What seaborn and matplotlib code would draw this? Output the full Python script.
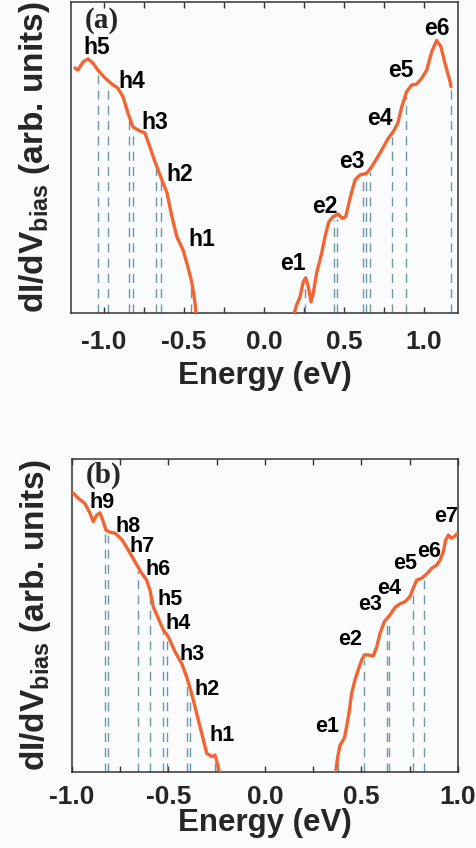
import numpy as np
import matplotlib
matplotlib.use("Agg")
import matplotlib.pyplot as plt
import seaborn as sns
import pandas as pd

# ---------------- data: panel (a) ----------------
a_hole_E = [-1.181, -1.163, -1.131, -1.100, -1.069, -1.038, -0.994, -0.950, -0.913, -0.881,
            -0.850, -0.819, -0.775, -0.744, -0.713, -0.681, -0.638, -0.606, -0.575, -0.544,
            -0.506, -0.475, -0.450, -0.431, -0.425]
a_hole_I = [0.788, 0.781, 0.807, 0.817, 0.804, 0.781, 0.756, 0.736, 0.723, 0.695,
            0.643, 0.598, 0.585, 0.579, 0.534, 0.486, 0.428, 0.386, 0.309, 0.244,
            0.203, 0.148, 0.096, 0.032, 0.0]
a_elec_E = [0.189, 0.204, 0.225, 0.246, 0.261, 0.277, 0.294, 0.308, 0.329, 0.361,
            0.381, 0.406, 0.433, 0.464, 0.489, 0.511, 0.538, 0.569, 0.600, 0.642,
            0.673, 0.725, 0.777, 0.808, 0.836, 0.861, 0.892, 0.923, 0.954, 0.986,
            1.017, 1.048, 1.079, 1.106, 1.131, 1.163, 1.169]
a_elec_I = [0.0, 0.026, 0.051, 0.101, 0.113, 0.085, 0.036, 0.064, 0.129, 0.193,
            0.245, 0.294, 0.310, 0.318, 0.304, 0.310, 0.369, 0.428, 0.444, 0.449,
            0.470, 0.514, 0.562, 0.583, 0.610, 0.663, 0.712, 0.733, 0.736, 0.755,
            0.781, 0.840, 0.876, 0.856, 0.803, 0.744, 0.728]
a_dash_E = [-1.036, -0.973, -0.842, -0.821, -0.675, -0.646, -0.458,
            0.256, 0.440, 0.454, 0.620, 0.640, 0.665, 0.800, 0.888, 1.167]
a_labels = ["h5", "h4", "h3", "h2", "h1", "e1", "e2", "e3", "e4", "e5", "e6"]
a_label_E = [-1.044, -0.827, -0.681, -0.525, -0.389, 0.183, 0.381, 0.548, 0.725, 0.854, 1.079]
a_label_I = [0.855, 0.743, 0.611, 0.444, 0.235, 0.160, 0.342, 0.487, 0.626, 0.781, 0.915]

# ---------------- data: panel (b) ----------------
b_hole_E = [-0.993, -0.967, -0.933, -0.907, -0.890, -0.872, -0.855, -0.841, -0.824, -0.803,
            -0.777, -0.742, -0.708, -0.674, -0.639, -0.613, -0.596, -0.579, -0.553, -0.527,
            -0.501, -0.466, -0.432, -0.406, -0.380, -0.354, -0.328, -0.302, -0.276, -0.259,
            -0.247, -0.237]
b_hole_I = [0.891, 0.874, 0.858, 0.827, 0.800, 0.821, 0.828, 0.805, 0.773, 0.766,
            0.763, 0.743, 0.709, 0.672, 0.635, 0.613, 0.581, 0.528, 0.491, 0.454,
            0.432, 0.384, 0.347, 0.304, 0.251, 0.187, 0.124, 0.060, 0.049, 0.054,
            0.028, 0.0]
b_elec_E = [0.366, 0.377, 0.389, 0.411, 0.423, 0.435, 0.449, 0.466, 0.483, 0.501,
            0.515, 0.535, 0.561, 0.579, 0.596, 0.618, 0.648, 0.674, 0.699, 0.725,
            0.751, 0.768, 0.786, 0.812, 0.838, 0.864, 0.890, 0.907, 0.924, 0.936,
            0.950, 0.964, 0.981, 0.998]
b_elec_I = [0.0, 0.049, 0.086, 0.108, 0.145, 0.188, 0.251, 0.294, 0.326, 0.358,
            0.374, 0.374, 0.371, 0.400, 0.443, 0.480, 0.502, 0.526, 0.537, 0.544,
            0.560, 0.587, 0.613, 0.619, 0.633, 0.651, 0.661, 0.677, 0.704, 0.741,
            0.757, 0.747, 0.752, 0.763]
b_dash_E = [-0.829, -0.812, -0.660, -0.596, -0.530, -0.506, -0.403, -0.389, -0.259,
            0.377, 0.512, 0.630, 0.642, 0.768, 0.824]
b_labels = ["h9", "h8", "h7", "h6", "h5", "h4", "h3", "h2", "h1",
            "e1", "e2", "e3", "e4", "e5", "e6", "e7"]
b_label_E = [-0.846, -0.708, -0.639, -0.553, -0.492, -0.449, -0.380, -0.302, -0.224,
             0.320, 0.440, 0.544, 0.644, 0.725, 0.851, 0.938]
b_label_I = [0.862, 0.784, 0.722, 0.648, 0.550, 0.473, 0.374, 0.262, 0.118,
             0.145, 0.422, 0.534, 0.587, 0.667, 0.704, 0.816]

tick_vals = [-1.0, -0.5, 0.0, 0.5, 1.0]
tick_text = ["-1.0", "-0.5", "0.0", "0.5", "1.0"]
minor_vals = [-0.75, -0.25, 0.25, 0.75]

# ---------------- style ----------------
sns.set_theme(style="ticks")
plt.rcParams["font.family"] = ["Liberation Sans", "DejaVu Sans"]
plt.rcParams["font.weight"] = "bold"
plt.rcParams["mathtext.fontset"] = "custom"
plt.rcParams["mathtext.rm"] = "Liberation Sans"
plt.rcParams["axes.unicode_minus"] = False

BG = "#FAFBFD"
CURVE = "#F26430"
DASH = "#6F95A8"

fig = plt.figure(figsize=(4.77, 8.48), dpi=100, facecolor=BG)
W, H = 477.0, 848.0
ax1 = fig.add_axes([71 / W, 1 - 313 / H, (458 - 71) / W, 311 / H])
ax2 = fig.add_axes([72 / W, 1 - 772 / H, (458 - 72) / W, 313 / H])


def draw(ax, hE, hI, eE, eI, dE, labels, lE, lI, xlim, tag, tagpos, lfs, tickpad, xlabpad):
    ax.set_facecolor(BG)
    allE = np.array(hE + eE)
    allI = np.array(hI + eI)
    order = np.argsort(allE)
    tops = np.interp(dE, allE[order], allI[order]) - 0.012
    ax.vlines(dE, 0, tops, colors=DASH, linestyles=(0, (6.5, 4.5)), linewidth=1.0, zorder=1)
    for E, I in ((hE, hI), (eE, eI)):
        df = pd.DataFrame({"E": E, "I": I})
        sns.lineplot(data=df, x="E", y="I", ax=ax, color=CURVE, linewidth=2.4,
                     sort=False, estimator=None, zorder=3)
    for t, x, y in zip(labels, lE, lI):
        ax.text(x, y, t, ha="center", va="center", fontsize=lfs, fontweight="bold",
                color="black", zorder=4)
    ax.text(tagpos[0], tagpos[1], tag, ha="center", va="center", fontsize=21,
            fontweight="bold", family=["Liberation Serif", "DejaVu Serif"])
    ax.set_xlim(*xlim)
    ax.set_ylim(0, 1)
    ax.set_xticks(tick_vals)
    ax.set_xticklabels(tick_text, fontsize=19, fontweight="bold")
    ax.set_xticks(minor_vals, minor=True)
    ax.tick_params(axis="x", which="both", direction="in", length=4, width=1.0,
                   top=True, bottom=True, pad=tickpad, color="#333333")
    ax.set_yticks([])
    ax.set_xlabel("Energy (eV)", fontsize=22.5, fontweight="bold", labelpad=xlabpad)
    ax.set_ylabel(r"dI/dV$_{\mathrm{bias}}$ (arb. units)", fontsize=24,
                  fontweight="bold", labelpad=14)
    for s in ax.spines.values():
        s.set_visible(True)
        s.set_color("#333333")
        s.set_linewidth(1.1)


draw(ax1, a_hole_E, a_hole_I, a_elec_E, a_elec_I, a_dash_E, a_labels, a_label_E,
     a_label_I, (-1.206, 1.2125), "(a)", (-1.015, 0.942), 16.5, 12, 5)
draw(ax2, b_hole_E, b_hole_I, b_elec_E, b_elec_I, b_dash_E, b_labels, b_label_E,
     b_label_I, (-1.0, 1.0), "(b)", (-0.838, 0.948), 15.5, 9, 0)

fig.savefig("out.png", dpi=100, facecolor=BG)
